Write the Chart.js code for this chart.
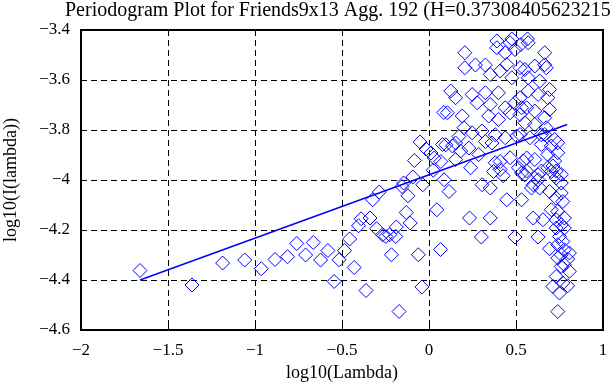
<!DOCTYPE html>
<html>
<head>
<meta charset="utf-8">
<script src="https://cdn.jsdelivr.net/npm/chart.js@4"></script>
<style>
  html, body { margin: 0; padding: 0; background: #fff; }
  canvas { display: block; }
</style>
</head>
<body>
<canvas id="pgram" width="611" height="385"></canvas>
<script>
// --- DATA ---
var titleText = 'Periodogram Plot for Friends9x13 Agg. 192 (H=0.37308405623215)';
var xLabel = 'log10(Lambda)';
var yLabel = 'log10(I(lambda))';
var xTicks = [-2, -1.5, -1, -0.5, 0, 0.5, 1];
var yTicks = [-4.6, -4.4, -4.2, -4, -3.8, -3.6, -3.4];

// periodogram points: log10(frequency) / log10(power)
var logLambda = [
  -1.661,-1.362,-1.186,-1.059,-0.964,-0.885,-0.813,-0.760,-0.709,-0.665,
  -0.623,-0.581,-0.545,-0.517,-0.485,-0.456,-0.430,-0.405,-0.390,-0.362,
  -0.339,-0.324,-0.301,-0.286,-0.267,-0.248,-0.226,-0.216,-0.191,-0.188,
  -0.172,-0.155,-0.146,-0.131,-0.121,-0.108,-0.093,-0.084,-0.061,-0.051,
  -0.041,-0.036,-0.017,0.011,0.030,0.024,0.045,0.068,0.066,0.078,
  0.085,0.087,0.097,0.106,0.115,0.125,0.135,0.153,0.153,0.153,
  0.172,0.182,0.191,0.201,0.206,0.206,0.229,0.233,0.239,0.248,
  0.248,0.267,0.277,0.286,0.301,0.305,0.305,0.324,0.324,0.324,
  0.343,0.352,0.352,0.352,0.352,0.362,0.371,0.381,0.381,0.390,
  0.390,0.399,0.399,0.409,0.409,0.409,0.426,0.438,0.438,0.438,
  0.447,0.447,0.466,0.466,0.466,0.476,0.476,0.494,0.494,0.494,
  0.504,0.514,0.523,0.523,0.523,0.523,0.528,0.532,0.532,0.532,
  0.542,0.551,0.551,0.551,0.561,0.561,0.561,0.566,0.570,0.570,
  0.570,0.580,0.589,0.599,0.599,0.608,0.608,0.608,0.608,0.627,
  0.627,0.627,0.627,0.636,0.636,0.646,0.646,0.646,0.655,0.665,
  0.665,0.665,0.665,0.674,0.674,0.683,0.683,0.683,0.693,0.693,
  0.693,0.693,0.703,0.703,0.703,0.712,0.712,0.722,0.722,0.731,
  0.731,0.731,0.731,0.731,0.731,0.740,0.740,0.740,0.740,0.740,
  0.740,0.750,0.750,0.760,0.760,0.760,0.760,0.760,0.760,0.769,
  0.769,0.769,0.778,0.778,0.778,0.778,0.797,0.797,0.807,0.807
];
var logI = [
  -4.362,-4.420,-4.332,-4.320,-4.355,-4.318,-4.307,-4.254,-4.300,-4.250,
  -4.320,-4.282,-4.406,-4.319,-4.282,-4.236,-4.350,-4.183,-4.155,-4.442,
  -4.152,-4.079,-4.195,-4.048,-4.219,-4.226,-4.219,-4.299,-4.226,-4.188,
  -4.526,-4.026,-4.012,-4.130,-4.063,-4.172,-3.988,-3.922,-4.299,-3.848,
  -4.428,-4.019,-3.876,-3.892,-3.912,-3.961,-4.119,-3.926,-4.278,-3.858,
  -3.730,-3.999,-3.859,-3.731,-4.046,-3.644,-3.864,-3.671,-3.918,-3.852,
  -3.826,-3.884,-3.744,-3.791,-3.491,-3.551,-3.872,-4.152,-3.951,-3.658,
  -3.811,-3.540,-3.691,-3.898,-4.228,-3.804,-4.019,-3.540,-3.651,-3.846,
  -3.744,-3.578,-3.698,-4.032,-4.152,-3.852,-3.966,-3.819,-3.931,-3.444,
  -3.471,-3.651,-3.758,-3.564,-3.926,-3.958,-3.983,-3.491,-3.711,-3.831,
  -3.538,-4.079,-3.451,-3.731,-3.911,-3.436,-3.591,-3.478,-3.691,-4.228,
  -3.824,-3.951,-3.551,-3.671,-3.738,-3.818,-3.458,-3.711,-3.972,-4.079,
  -3.924,-3.558,-3.771,-3.979,-3.711,-3.912,-3.964,-3.436,-3.451,-3.591,
  -3.644,-3.831,-4.032,-4.019,-4.152,-3.544,-3.724,-3.778,-3.918,-3.658,
  -3.979,-3.999,-4.228,-3.604,-4.032,-3.819,-3.858,-3.964,-4.159,-3.491,
  -3.539,-3.751,-3.818,-3.551,-3.791,-3.671,-3.898,-3.951,-3.638,-3.718,
  -4.046,-4.275,-3.864,-3.966,-4.119,-3.944,-4.426,-3.838,-3.924,-3.964,
  -3.992,-4.072,-4.159,-4.192,-4.386,-3.851,-3.891,-4.126,-4.259,-4.312,
  -4.526,-4.226,-4.452,-3.978,-4.012,-4.052,-4.179,-4.299,-4.346,-4.086,
  -4.246,-4.412,-4.152,-4.192,-4.279,-4.339,-4.316,-4.423,-4.292,-4.365
];

// fitted regression line end points (slope = 1 - 2H)
var fitX = [-1.661, 0.794];
var fitY = [-4.400, -3.778];

var FONT = '"Liberation Serif", "Times New Roman", serif';

function fmt(v) {
  var s = String(Math.round(v * 10) / 10);
  return s.replace('-', '\u2212');   // real minus sign, like the original
}

// box round the plot + small inward ticks on all four sides
var framePlugin = {
  id: 'frame',
  afterDraw: function (chart) {
    var ctx = chart.ctx;
    var a = chart.chartArea;
    var xs = chart.scales.x, ys = chart.scales.y;
    ctx.save();
    ctx.strokeStyle = '#000';
    ctx.lineWidth = 1;
    ctx.setLineDash([]);
    ctx.beginPath();
    xTicks.forEach(function (t) {
      var px = Math.round(xs.getPixelForValue(t)) + 0.5;
      ctx.moveTo(px, a.bottom); ctx.lineTo(px, a.bottom - 5);
      ctx.moveTo(px, a.top); ctx.lineTo(px, a.top + 5);
    });
    yTicks.forEach(function (t) {
      var py = Math.round(ys.getPixelForValue(t)) + 0.5;
      ctx.moveTo(a.left, py); ctx.lineTo(a.left + 5, py);
      ctx.moveTo(a.right, py); ctx.lineTo(a.right - 5, py);
    });
    ctx.stroke();
    ctx.lineWidth = 2;
    ctx.strokeRect(a.left, a.top, a.right - a.left, a.bottom - a.top);

    // titles
    ctx.fillStyle = '#000';
    ctx.font = '20px ' + FONT;
    ctx.textAlign = 'left';
    ctx.textBaseline = 'alphabetic';
    ctx.fillText(titleText, 65, 16);

    ctx.font = '18px ' + FONT;
    ctx.textAlign = 'center';
    ctx.textBaseline = 'middle';
    ctx.fillText(xLabel, (a.left + a.right) / 2, 373);

    ctx.translate(11, (a.top + a.bottom) / 2);
    ctx.rotate(-Math.PI / 2);
    ctx.fillText(yLabel, 0, 0);
    ctx.restore();
  }
};

var points = logLambda.map(function (x, i) { return { x: x, y: logI[i] }; });
var fitLine = fitX.map(function (x, i) { return { x: x, y: fitY[i] }; });

new Chart(document.getElementById('pgram'), {
  type: 'scatter',
  data: {
    datasets: [{
      label: 'periodogram',
      data: points,
      pointStyle: 'rectRot',
      pointRadius: 7,
      pointHoverRadius: 7,
      pointBorderWidth: 1,
      borderColor: '#0000ff',
      backgroundColor: 'rgba(0,0,0,0)'
    }, {
      label: 'fit',
      data: fitLine,
      showLine: true,
      borderColor: '#0000ff',
      borderWidth: 1.5,
      pointRadius: 0
    }]
  },
  options: {
    responsive: false,
    animation: false,
    events: [],
    layout: { padding: { top: 30, right: 2, left: 0, bottom: 0 } },
    plugins: {
      legend: { display: false },
      tooltip: { enabled: false }
    },
    scales: {
      x: {
        type: 'linear',
        min: -2,
        max: 1,
        afterBuildTicks: function (s) { s.ticks = xTicks.map(function (v) { return { value: v }; }); },
        afterFit: function (s) {
          s.height = 55;
          // the "1" label may run off the canvas edge, as in the original
          s.paddingLeft = 0;
          s.paddingRight = 0;
        },
        border: { display: false, dash: [6, 4] },
        grid: { color: '#000', lineWidth: 1, drawTicks: false },
        ticks: {
          color: '#000',
          padding: 10,
          maxRotation: 0,
          font: { family: FONT, size: 17 },
          callback: function (v) { return fmt(v); }
        }
      },
      y: {
        type: 'linear',
        min: -4.6,
        max: -3.4,
        afterBuildTicks: function (s) { s.ticks = yTicks.map(function (v) { return { value: v }; }); },
        afterFit: function (s) { s.width = 81; s.paddingTop = 0; s.paddingBottom = 0; },
        border: { display: false, dash: [6, 4] },
        grid: { color: '#000', lineWidth: 1, drawTicks: false },
        ticks: {
          color: '#000',
          padding: 11,
          font: { family: FONT, size: 17 },
          callback: function (v) { return fmt(v); }
        }
      }
    }
  },
  plugins: [framePlugin]
});
</script>
</body>
</html>
